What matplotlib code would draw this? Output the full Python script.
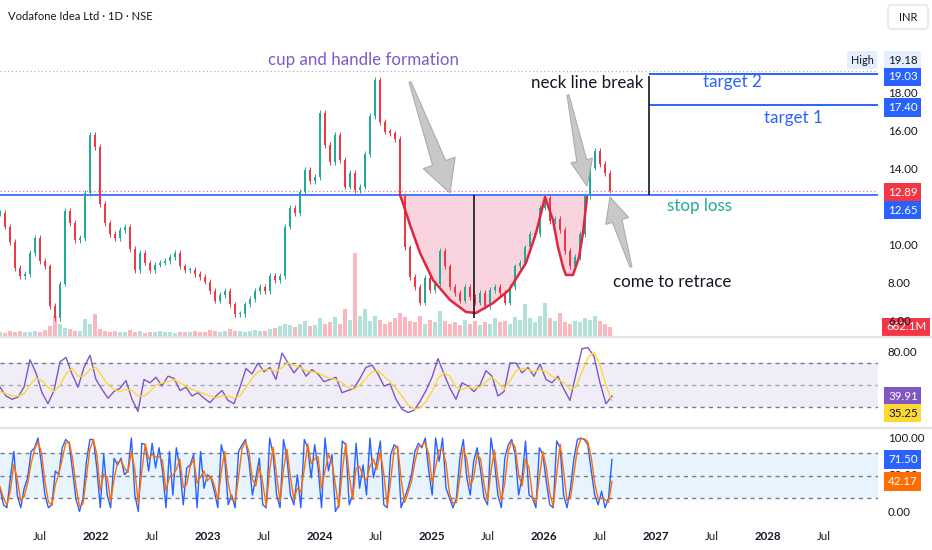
import matplotlib
matplotlib.use('Agg')
import matplotlib.pyplot as plt
import numpy as np
from matplotlib.patches import Polygon, FancyBboxPatch

plt.rcParams['font.family'] = ['Lato', 'DejaVu Sans']

W, H = 932, 550
PLOT_RIGHT = 878          # px where the price scale starts
T_LEFT, T_RIGHT = 2021.143, 2028.982
T_PRICE_END = 2026.589
T_IND_END = 2026.607

UP, DOWN = '#22ab94', '#f23645'

# ---------------------------------------------------------------------------
# Data
# ---------------------------------------------------------------------------
price_close = [11.7, 11.0, 10.2, 8.8, 8.4, 8.5, 9.6, 10.4, 9.2, 8.9,
               6.8, 6.2, 8.0, 11.8, 11.2, 10.3, 10.4, 12.75, 15.8, 15.2,
               12.2, 11.2, 10.6, 10.4, 10.8, 11.0, 9.8, 8.7, 9.6, 9.1,
               8.7, 9.0, 9.1, 9.2, 9.4, 9.6, 8.9, 8.7, 8.7, 8.5,
               8.35, 8.1, 7.6, 7.1, 7.4, 7.6, 6.9, 6.4, 6.4, 6.9,
               7.2, 7.6, 7.8, 7.6, 8.4, 8.2, 8.4, 11.0, 12.0, 11.7,
               12.8, 14.0, 13.4, 13.6, 17.0, 15.3, 14.4, 15.8, 14.5, 13.1,
               13.8, 12.9, 13.1, 14.8, 16.8, 18.7, 16.5, 16.0, 15.9, 15.6,
               12.6, 9.9, 8.35, 7.8, 7.0, 8.3, 7.65, 8.0, 9.7, 8.9,
               7.8, 7.5, 7.1, 7.8, 7.3, 7.0, 7.5, 6.8, 7.65, 7.8,
               7.5, 7.0, 7.8, 8.9, 9.1, 9.9, 10.6, 10.6, 12.0, 12.5,
               11.3, 11.4, 10.8, 9.7, 8.9, 9.4, 10.6, 12.6, 14.1, 15.0,
               14.3, 13.8, 12.89]

volume_m = [300, 250, 350, 280, 400, 320, 260, 380, 300, 450,
            700, 1500, 900, 600, 500, 350, 400, 1250, 900, 1600,
            500, 350, 300, 400, 280, 320, 450, 300, 350, 250,
            300, 280, 350, 300, 260, 240, 300, 280, 320, 350,
            300, 280, 450, 350, 300, 400, 500, 350, 400, 300,
            350, 450, 400, 380, 500, 600, 700, 900, 800, 650,
            900, 1100, 700, 800, 1300, 900, 1000, 1400, 900, 2000,
            1200, 6100, 1500, 2000, 1100, 1500, 1200, 900, 1000, 1300,
            1700, 1400, 1100, 1000, 1500, 900, 1200, 1000, 1850, 1100,
            900, 1000, 800, 1200, 900, 1100, 800, 1000, 900, 1300,
            1000, 1100, 900, 1400, 1200, 2350, 1300, 1000, 1500, 2400,
            1300, 1100, 1700, 1000, 900, 1100, 1000, 1300, 1200, 1500,
            1100, 900, 662.1]

rsi = [48, 40, 37, 39, 48, 73, 61, 43, 33, 45,
       71, 75, 60, 48, 66, 77, 55, 46, 38, 44,
       47, 54, 37, 26, 55, 52, 57, 49, 58, 56,
       45, 48, 40, 43, 38, 34, 40, 45, 36, 33,
       48, 65, 60, 70, 62, 66, 55, 79, 70, 61,
       68, 58, 64, 60, 53, 55, 57, 43, 45, 47,
       56, 66, 68, 60, 49, 51, 37, 28, 25, 27,
       35, 45, 57, 74, 60, 47, 37, 52, 49, 44,
       50, 63, 58, 40, 44, 70, 70, 61, 66, 58,
       69, 55, 52, 58, 46, 36, 60, 83, 84, 76,
       52, 33, 39.91]

rsi_ma = [44, 42, 40, 40, 42, 50, 56, 54, 48, 44,
          50, 60, 65, 58, 58, 64, 66, 58, 50, 46,
          44, 46, 45, 40, 40, 44, 50, 52, 53, 55,
          52, 49, 46, 44, 42, 40, 38, 40, 40, 38,
          40, 48, 56, 62, 64, 64, 62, 66, 70, 68,
          66, 63, 62, 61, 58, 56, 55, 52, 48, 46,
          50, 56, 62, 63, 58, 53, 47, 40, 32, 28,
          29, 35, 44, 56, 61, 58, 48, 46, 48, 47,
          48, 53, 57, 52, 46, 54, 63, 65, 64, 62,
          64, 62, 58, 55, 52, 46, 48, 62, 75, 80,
          68, 50, 35.25]

stoch_k = [33, 11, 7, 47, 82, 24, 7, 33, 47, 82,
           87, 100, 64, 24, 7, 11, 56, 51, 87, 98,
           93, 56, 18, 2, 20, 69, 98, 98, 60, 7,
           78, 24, 7, 73, 64, 73, 51, 56, 100, 24,
           2, 93, 91, 56, 93, 60, 87, 56, 7, 82,
           24, 87, 60, 11, 60, 64, 78, 7, 82, 33,
           51, 47, 29, 7, 91, 73, 11, 24, 7, 82,
           91, 98, 69, 24, 47, 73, 11, 7, 100, 78,
           24, 7, 98, 73, 24, 11, 51, 7, 98, 87,
           47,
           91, 60, 7, 100, 56, 78, 2, 11, 96, 91,
           11, 24, 93, 33, 64, 24, 100, 47, 69, 96,
           11, 7, 78, 91, 87, 7, 20, 33, 51, 82,
           93, 87, 100, 56, 24, 100, 69, 100, 33, 20,
           7, 20, 73, 98, 47, 24, 69, 87, 56, 20,
           11, 100, 69, 24, 7, 73, 91, 98, 78, 24,
           47, 96, 24, 20, 7, 87, 78, 42, 11, 7,
           96, 87, 24, 7, 33, 73, 98, 100, 98, 91,
           56, 24, 11, 29, 7, 20, 71.5]

stoch_d = [35, 20, 10, 30, 65, 45, 16, 22, 40, 66,
           85, 95, 80, 42, 15, 10, 38, 52, 72, 93,
           95, 72, 35, 9, 12, 48, 85, 98, 78, 30,
           52, 48, 15, 45, 68, 70, 60, 54, 82, 58,
           12, 55, 92, 72, 78, 75, 75, 70, 30, 48,
           50, 58, 72, 34, 38, 62, 72, 40, 48, 56,
           43, 49, 37, 17, 55, 82, 40, 18, 15, 48,
           86, 95, 82, 45, 36, 62, 40, 9, 58, 88,
           50, 15, 58, 85, 48, 18, 33, 28, 58, 92,
           66,
           72, 75, 33, 56, 78, 68, 38, 7, 56, 93,
           50, 18, 60, 62, 48, 44, 62, 72, 58, 82,
           52, 9, 44, 85, 89, 46, 14, 27, 42, 68,
           88, 90, 94, 78, 40, 62, 84, 85, 66, 26,
           13, 14, 48, 86, 72, 36, 47, 78, 72, 38,
           16, 56, 84, 46, 16, 40, 82, 95, 88, 51,
           36, 72, 60, 22, 13, 48, 82, 60, 27, 9,
           52, 92, 56, 16, 20, 53, 86, 99, 99, 95,
           74, 40, 18, 20, 18, 14, 42.17]

HIGH = 19.18
LAST = 12.89
NECK = 12.65
TARGET1 = 17.40
TARGET2 = 19.03

# cup and handle drawing (time in years, price)
cup_t = [2024.714, 2024.732, 2024.804, 2024.893, 2025.009, 2025.161, 2025.304,
         2025.393, 2025.545, 2025.688, 2025.839, 2025.929, 2026.009, 2026.080,
         2026.125, 2026.170, 2026.196, 2026.259, 2026.313, 2026.348, 2026.384]
cup_p = [12.66, 12.39, 11.08, 9.61, 8.18, 7.13, 6.50, 6.45, 6.97, 7.66, 9.08,
         10.66, 12.55, 11.34, 9.92, 8.87, 8.45, 8.45, 9.39, 10.66, 12.55]
CUP_MID_T, CUP_LOW = 2025.375, 6.18
BREAK_T = 2026.938

x_ticks = [2021.5, 2022, 2022.5, 2023, 2023.5, 2024, 2024.5, 2025, 2025.5,
           2026, 2026.5, 2027, 2027.5, 2028, 2028.5]
x_labels = ['Jul', '2022', 'Jul', '2023', 'Jul', '2024', 'Jul', '2025', 'Jul',
            '2026', 'Jul', '2027', 'Jul', '2028', 'Jul']


def pane(top, bottom):
    return [0, 1 - bottom / H, PLOT_RIGHT / W, (bottom - top) / H]


def clean(ax):
    for s in ax.spines.values():
        s.set_visible(False)
    ax.set_yticks([])
    ax.tick_params(axis='x', length=0, labelbottom=False)
    ax.set_xlim(T_LEFT, T_RIGHT)


def scale_label(ax, val, text, fc=None, tc='#131722', dy=0, x_px=888, z=5):
    # dy in px, positive = down
    kw = {}
    if fc is not None:
        kw['bbox'] = dict(boxstyle='square,pad=0.32', fc=fc, ec='none')
    ax.annotate(text, xy=(1.0, val), xycoords=ax.get_yaxis_transform(),
                xytext=((x_px - PLOT_RIGHT) * 0.72, -dy * 0.72),
                textcoords='offset points', ha='left', va='center',
                fontsize=8.3, color=tc, annotation_clip=False, zorder=z, **kw)


fig = plt.figure(figsize=(W / 100, H / 100), dpi=100)
fig.patch.set_facecolor('white')

# ---------------------------------------------------------------------------
# Price pane (volume underneath)
# ---------------------------------------------------------------------------
price_t = np.linspace(T_LEFT, T_PRICE_END, len(price_close))
price_open = [price_close[0]] + price_close[:-1]

ax_v = fig.add_axes(pane(40, 336))
ax_p = fig.add_axes(pane(40, 336), sharex=ax_v)
ax_p.set_facecolor('none')
clean(ax_v)
clean(ax_p)

vcols = [UP if c >= o else DOWN for o, c in zip(price_open, price_close)]
ax_v.bar(price_t, volume_m, width=0.03, color=vcols, alpha=0.35, linewidth=0)
ax_v.set_ylim(0, 296 * 662.1 / 9)

ax_p.set_ylim(10 - 90.5 / 19, 10 + 205.5 / 19)

# cup & handle shading
ax_p.fill_between(cup_t, cup_p, NECK, color='#f9d3de', zorder=1, linewidth=0)
ax_p.plot(cup_t, cup_p, color='#e0263f', lw=1.8, zorder=4, solid_capstyle='round')
ax_p.vlines(CUP_MID_T, CUP_LOW, NECK, color='#131722', lw=1.2, zorder=4)

# candles
for t, o, c in zip(price_t, price_open, price_close):
    col = UP if c >= o else DOWN
    lo, hi = min(o, c), max(o, c)
    ax_p.bar(t, max(hi - lo, 0.06), bottom=lo, width=0.022, color=col,
             linewidth=0, zorder=3)
    ax_p.vlines(t, lo - 0.15, hi + 0.15, color=col, lw=0.7, zorder=3)

# horizontal levels
ax_p.axhline(HIGH, color='#b2b5be', lw=0.9, ls=(0, (1, 2)), zorder=2)
ax_p.axhline(LAST, color=DOWN, lw=0.9, ls=(0, (1, 2)), alpha=0.7, zorder=2)
ax_p.axhline(NECK, color='#2962ff', lw=1.2, zorder=2)
ax_p.hlines([TARGET2, TARGET1], BREAK_T, T_RIGHT, color='#2962ff', lw=1.4, zorder=2)
ax_p.vlines(BREAK_T, NECK, TARGET2 - 0.1, color='#131722', lw=1.2, zorder=2)

# price scale
for v in [18, 16, 14, 10, 8, 6]:
    scale_label(ax_p, v, f'{v:.2f}', z=3)
scale_label(ax_p, HIGH, f'{HIGH:.2f}', fc='#e3effd', dy=-11)
scale_label(ax_p, TARGET2, f'{TARGET2:.2f}', fc='#2962ff', tc='white', dy=3)
scale_label(ax_p, TARGET1, f'{TARGET1:.2f}', fc='#2962ff', tc='white', dy=2.5)
scale_label(ax_p, LAST, f'{LAST:.2f}', fc=DOWN, tc='white', dy=1.5)
scale_label(ax_p, NECK, f'{NECK:.2f}', fc='#2962ff', tc='white', dy=15)
ax_p.annotate('High', xy=(1.0, HIGH), xycoords=ax_p.get_yaxis_transform(),
              xytext=(-3, 11 * 0.72), textcoords='offset points', ha='right',
              va='center', fontsize=7.8, color='#131722', annotation_clip=False,
              bbox=dict(boxstyle='square,pad=0.32', fc='#e3effd', ec='none'))
scale_label(ax_v, volume_m[-1], '662.1M', fc=DOWN, tc='white', x_px=886, z=6)

# ---------------------------------------------------------------------------
# RSI pane
# ---------------------------------------------------------------------------
ind_t = np.linspace(T_LEFT, T_IND_END, len(rsi))
ax_r = fig.add_axes(pane(338, 427), sharex=ax_p)
clean(ax_r)
ax_r.set_ylim(50 - 42 / 1.1, 50 + 47 / 1.1)
ax_r.axhspan(30, 70, color='#7e57c2', alpha=0.1, lw=0)
for lvl, a in [(70, 1), (50, 0.6), (30, 1)]:
    ax_r.axhline(lvl, color='#787b86', lw=1, ls=(0, (3, 3)), alpha=a)
ax_r.plot(ind_t, rsi, color='#7e57c2', lw=1)
ax_r.plot(ind_t, rsi_ma, color='#fdd835', lw=1)
scale_label(ax_r, 80, '80.00')
scale_label(ax_r, rsi[-1], f'{rsi[-1]:.2f}', fc='#7e57c2', tc='white')
scale_label(ax_r, rsi_ma[-1], f'{rsi_ma[-1]:.2f}', fc='#fdd835', dy=12)

# ---------------------------------------------------------------------------
# Stochastic pane
# ---------------------------------------------------------------------------
st_t = np.linspace(T_LEFT, T_IND_END, len(stoch_k))
ax_s = fig.add_axes(pane(429, 520), sharex=ax_p)
clean(ax_s)
ax_s.set_ylim(-7 / 0.75, 84 / 0.75)
ax_s.axhspan(20, 80, color='#2196f3', alpha=0.1, lw=0)
for lvl in [80, 50, 20]:
    ax_s.axhline(lvl, color='#787b86', lw=1, ls=(0, (3, 3)))
ax_s.plot(st_t, stoch_k, color='#2962ff', lw=1)
ax_s.plot(st_t, stoch_d, color='#ff6d00', lw=1)
for v in [100, 50, 0]:
    scale_label(ax_s, v, f'{v:.2f}', z=3)
scale_label(ax_s, stoch_k[-1], f'{stoch_k[-1]:.2f}', fc='#2962ff', tc='white')
scale_label(ax_s, stoch_d[-1], f'{stoch_d[-1]:.2f}', fc='#ff6d00', tc='white')

ax_s.set_xticks(x_ticks)
ax_s.set_xticklabels(x_labels)
ax_s.tick_params(axis='x', labelbottom=True, length=0, pad=8, labelsize=8.3,
                 labelcolor='#131722')
for lab in ax_s.get_xticklabels():
    if lab.get_text() != 'Jul':
        lab.set_fontweight('bold')

# ---------------------------------------------------------------------------
# Overlay in pixel coordinates: title, notes, arrows, separators
# ---------------------------------------------------------------------------
ov = fig.add_axes([0, 0, 1, 1])
ov.set_xlim(0, W)
ov.set_ylim(H, 0)
ov.axis('off')
ov.set_facecolor('none')

for y in (337, 428):
    ov.plot([0, W], [y, y], color='#e0e3eb', lw=1.6)

ov.text(8, 17, 'Vodafone Idea Ltd · 1D · NSE', fontsize=8.1, color='#131722',
        ha='left', va='center')
ov.add_patch(FancyBboxPatch((888, 5), 40, 24, boxstyle='round,pad=0,rounding_size=4',
                            fc='white', ec='#e0e3eb', lw=1))
ov.text(908, 17.5, 'INR', fontsize=8, color='#131722', ha='center', va='center')

notes = [
    (268, 60, 'cup and handle formation', '#7b5cc8'),
    (531, 83, 'neck line break', '#131722'),
    (703, 82, 'target 2', '#2962ff'),
    (764, 118, 'target 1', '#2962ff'),
    (667, 206, 'stop loss', '#22ab94'),
    (613, 282, 'come to retrace', '#131722'),
]
for x, y, s, c in notes:
    ov.text(x, y, s, fontsize=12.2, color=c, ha='left', va='center')


def fat_arrow(tail, tip, head_len, head_w, neck_w, tail_w=1.0):
    t = np.array(tail, float)
    p = np.array(tip, float)
    d = (p - t) / np.linalg.norm(p - t)
    n = np.array([-d[1], d[0]])
    neck = p - d * head_len
    pts = [t + n * tail_w, neck + n * neck_w, neck + n * head_w, p,
           neck - n * head_w, neck - n * neck_w, t - n * tail_w]
    ov.add_patch(Polygon(pts, closed=True, fc='#c4c4c4', ec='#a8a8a8', lw=0.8,
                         alpha=0.92, zorder=5))


fat_arrow((410, 82), (450, 193), 32, 17, 7)
fat_arrow((568, 95), (587, 186), 26, 11, 5)
fat_arrow((631, 267), (610, 197), 25, 12, 5)

fig.savefig('out.png', dpi=100, facecolor='white')
